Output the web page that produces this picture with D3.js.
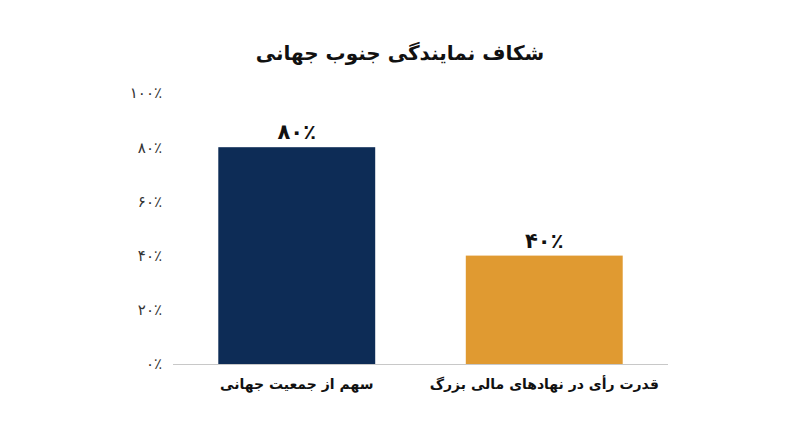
<!DOCTYPE html>
<html>
<head>
<meta charset="utf-8">
<script src="https://cdn.jsdelivr.net/npm/d3@7"></script>
<style>
  html, body { margin: 0; padding: 0; background: #fff; }
  svg { display: block; font-family: "DejaVu Sans", "Noto Sans", sans-serif; }
</style>
</head>
<body>
<svg id="chart" width="800" height="447"></svg>
<script>
// chart data
const title = 'شکاف نمایندگی جنوب جهانی'
const categories = ['سهم از جمعیت جهانی', 'قدرت رأی در نهادهای مالی بزرگ']
const values = [80, 40]
const colors = ['#0d2c56', '#e09a31']
const yTicks = [0, 20, 40, 60, 80, 100]

const width = 800
const height = 447
const margin = { top: 93, right: 132, bottom: 83, left: 173 }

// persian digits + arabic percent sign
const faDigits = '۰۱۲۳۴۵۶۷۸۹'
const pct = (v) => String(v).replace(/\d/g, (c) => faDigits[c]) + '٪'

const svg = d3.select('#chart')

svg.append('rect')
  .attr('width', width)
  .attr('height', height)
  .attr('fill', '#fff')

const x = d3.scaleBand()
  .domain(categories)
  .range([margin.left, width - margin.right])
  .paddingInner(0.366)
  .paddingOuter(0.183)

const y = d3.scaleLinear()
  .domain([0, 100])
  .range([height - margin.bottom, margin.top])

// title
svg.append('text')
  .attr('x', width / 2)
  .attr('y', 60)
  .attr('text-anchor', 'middle')
  .attr('font-size', 20)
  .attr('font-weight', 'bold')
  .attr('fill', '#111')
  .attr('direction', 'rtl')
  .text(title)

// y axis (labels only)
const yAxis = svg.append('g')
  .attr('transform', `translate(${margin.left},0)`)
  .call(d3.axisLeft(y).tickValues(yTicks).tickFormat(pct).tickSize(0).tickPadding(11))

yAxis.select('.domain').remove()
yAxis.selectAll('text')
  .attr('font-size', 15)
  .attr('font-family', '"DejaVu Sans", sans-serif')
  .attr('fill', '#333')

// bars
svg.append('g')
  .selectAll('rect')
  .data(categories)
  .join('rect')
  .attr('x', (d) => x(d))
  .attr('y', (d, i) => y(values[i]))
  .attr('width', x.bandwidth())
  .attr('height', (d, i) => y(0) - y(values[i]))
  .attr('fill', (d, i) => colors[i])

// baseline
svg.append('line')
  .attr('x1', margin.left)
  .attr('x2', width - margin.right)
  .attr('y1', y(0) + 0.5)
  .attr('y2', y(0) + 0.5)
  .attr('stroke', '#c8c8c8')
  .attr('stroke-width', 1)

// value labels
svg.append('g')
  .selectAll('text')
  .data(categories)
  .join('text')
  .attr('x', (d) => x(d) + x.bandwidth() / 2)
  .attr('y', (d, i) => y(values[i]) - 8)
  .attr('text-anchor', 'middle')
  .attr('font-size', 21)
  .attr('font-weight', 'bold')
  .attr('fill', '#111')
  .text((d, i) => pct(values[i]))

// category labels
svg.append('g')
  .selectAll('text')
  .data(categories)
  .join('text')
  .attr('x', (d) => x(d) + x.bandwidth() / 2)
  .attr('y', y(0) + 25)
  .attr('text-anchor', 'middle')
  .attr('direction', 'rtl')
  .attr('font-size', 14)
  .attr('font-weight', 'bold')
  .attr('fill', '#111')
  .text((d) => d)
</script>
</body>
</html>
